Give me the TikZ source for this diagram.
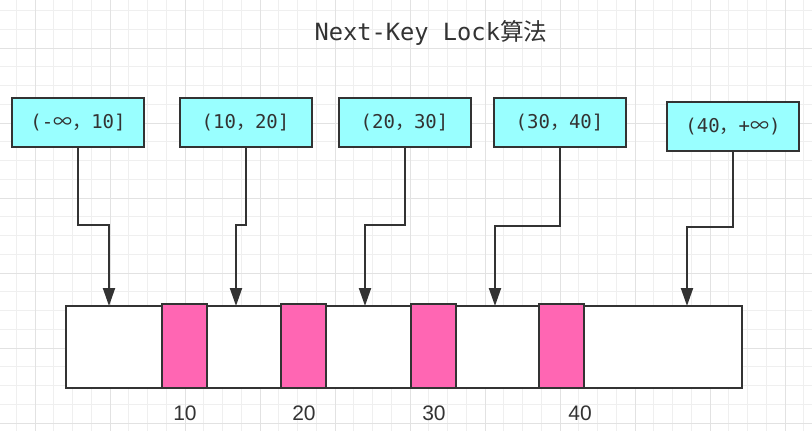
\documentclass[tikz,border=0pt]{standalone}
\usepackage{fontspec}
\setmainfont{Liberation Sans}
\newfontfamily\monof{DejaVu Sans Mono}
\newfontfamily\cjk{Noto Sans CJK SC}
\usetikzlibrary{arrows.meta}
\definecolor{gridminor}{HTML}{EFEFEF}
\definecolor{gridmajor}{HTML}{E2E2E2}
\definecolor{ink}{HTML}{333333}
\definecolor{boxcyan}{HTML}{99FFFF}
\definecolor{keypink}{HTML}{FF66B3}
\newcommand{\zhcomma}{{\cjk ，}}
\newcommand{\infsym}{{\cjk ∞}}
\tikzset{
  rangebox/.style={draw=ink, line width=2pt, fill=boxcyan, minimum width=132pt, minimum height=49pt, inner sep=0pt, text=ink, font=\fontsize{19}{21}\selectfont\monof},
  barbox/.style={draw=ink, line width=2pt, fill=white, minimum width=676pt, minimum height=82pt, inner sep=0pt},
  keybox/.style={draw=ink, line width=2pt, fill=keypink, minimum width=45pt, minimum height=84pt, inner sep=0pt},
  keylabel/.style={text=ink, font=\fontsize{21}{24}\selectfont, inner sep=0pt},
  arr/.style={draw=ink, line width=2pt, -{Triangle[length=18pt,width=12pt]}},
}
\begin{document}
\begin{tikzpicture}[x=1pt,y=-1pt]
\useasboundingbox[fill=white] (0,0) rectangle (812,431);
% grid
\foreach \i in {0,...,43} {
  \pgfmathsetmacro\xx{-2.5+18.75*\i}
  \draw[gridminor, line width=1pt] (\xx,0) -- (\xx,431);
}
\foreach \j in {0,...,22} {
  \pgfmathsetmacro\yy{10.5+18.75*\j}
  \draw[gridminor, line width=1pt] (0,\yy) -- (812,\yy);
}
\foreach \i in {0,...,10} {
  \pgfmathsetmacro\xx{35+75*\i}
  \draw[gridmajor, line width=1pt] (\xx,0) -- (\xx,431);
}
\foreach \j in {0,...,5} {
  \pgfmathsetmacro\yy{48+75*\j}
  \draw[gridmajor, line width=1pt] (0,\yy) -- (812,\yy);
}
% title
\node[anchor=base, text=ink, font=\fontsize{23.7}{27}\selectfont, inner sep=0pt] (title) at (431,40) {{\monof Next-Key Lock}{\cjk 算法}};
% range boxes
\node[rangebox] (b1) at (78,122.5) {(-\infsym\zhcomma 10]};
\node[rangebox] (b2) at (245.5,122.5) {(10\zhcomma 20]};
\node[rangebox] (b3) at (404.5,122.5) {(20\zhcomma 30]};
\node[rangebox] (b4) at (559.5,122.5) {(30\zhcomma 40]};
\node[rangebox] (b5) at (733,126.5) {(40\zhcomma +\infsym)};
% bar and keys
\node[barbox] (bar) at (404,347) {};
\node[keybox] (p1) at (184.5,346) {};
\node[keybox] (p2) at (303,346) {};
\node[keybox] (p3) at (433.5,346) {};
\node[keybox] (p4) at (561.5,346) {};
% labels
\node[keylabel] (l10) at (185,413) {10};
\node[keylabel] (l20) at (304,413) {20};
\node[keylabel] (l30) at (434,413) {30};
\node[keylabel] (l40) at (580,413) {40};
% arrow targets
\coordinate (t1) at (109,306);
\coordinate (t2) at (236,306);
\coordinate (t3) at (365,306);
\coordinate (t4) at (495,306);
\coordinate (t5) at (687,306);
\coordinate (m1) at (0,225);
\coordinate (m2) at (0,225);
\coordinate (m3) at (0,225);
\coordinate (m4) at (0,226);
\coordinate (m5) at (0,227);
\foreach \k in {1,...,5} {
  \draw[arr] (b\k.south) |- (t\k |- m\k) -- (t\k);
}
\end{tikzpicture}
\end{document}
